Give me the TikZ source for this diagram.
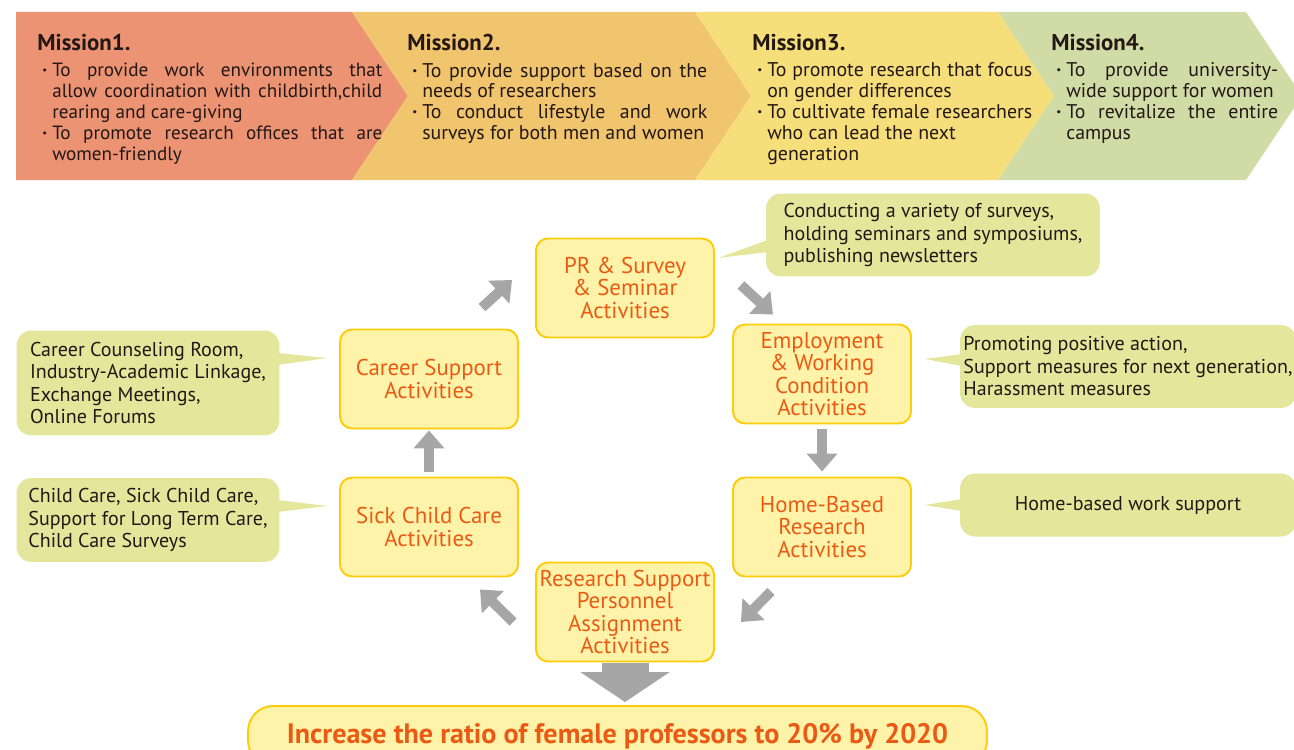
\documentclass[tikz,border=0pt]{standalone}
\usepackage{fontspec}
\setmainfont{PT Sans}
\usepackage{tikz}
\usetikzlibrary{arrows.meta,calc}
\definecolor{rojizo}{RGB}{235,147,115}
\definecolor{ocre}{RGB}{241,196,110}
\definecolor{amarillo}{RGB}{246,222,123}
\definecolor{oliva}{RGB}{209,219,166}
\definecolor{cremaClaro}{RGB}{255,243,170}
\definecolor{doradoBorde}{RGB}{253,204,10}
\definecolor{textoNaranja}{RGB}{234,90,20}
\definecolor{verdeNota}{RGB}{228,231,155}
\definecolor{grisFlecha}{RGB}{166,166,166}
\definecolor{tinta}{RGB}{35,24,21}
\tikzstyle{mission} =[anchor=north west, inner sep=0pt, align=justify,
                      text=tinta, font=\fontsize{11.3}{11.9}\selectfont]
\tikzstyle{activity}=[rectangle, rounded corners=0.24cm, draw=doradoBorde,
                      fill=cremaClaro, line width=1.1pt, inner sep=0pt,
                      minimum width=3.56cm, minimum height=1.98cm,
                      align=center, text=textoNaranja,
                      font=\fontsize{13}{12.8}\selectfont]
\tikzstyle{note}    =[rectangle, rounded corners=0.3cm, fill=verdeNota,
                      inner sep=0pt, align=left, text=tinta,
                      font=\fontsize{11.4}{12.8}\selectfont]
\tikzstyle{flecha}  =[draw=grisFlecha, line width=0.2cm,
                      -{Triangle[width=0.6cm,length=0.36cm]}]
\tikzstyle{goalbox} =[rectangle, rounded corners=0.5cm, draw=doradoBorde,
                      fill=cremaClaro, line width=1.1pt, inner sep=0pt,
                      minimum width=14.78cm, minimum height=1.2cm,
                      text=textoNaranja,
                      font=\bfseries\fontsize{16}{18}\selectfont]
\newcommand{\titulo}{\fontsize{13}{15}\selectfont\bfseries}
\newcommand{\punto}{\par\noindent\hangindent=8.5pt\hangafter=1\makebox[8.5pt][c]{\bfseries ·}}

\begin{document}
\begin{tikzpicture}[x=0.02cm, y=-0.02cm]
    \useasboundingbox (0,0) rectangle (1294,750);

        % missions band
        \begin{scope}[]
            \fill[rojizo]   (16,12) -- (352,12) -- (408,96) -- (352,180) -- (16,180) -- cycle;
            \fill[ocre]     (352,12) -- (695,12) -- (751,96) -- (695,180) -- (352,180) -- (408,96) -- cycle;
            \fill[amarillo] (695,12) -- (998,12) -- (1054,96) -- (998,180) -- (695,180) -- (751,96) -- cycle;
            \fill[oliva]    (998,12) -- (1246,12) -- (1302,96) -- (1246,180) -- (998,180) -- (1054,96) -- cycle;

            \draw (37,33.5) node (m1) [mission, text width=6.9cm, font=\fontsize{10.9}{11.9}\selectfont] {\noindent{\titulo Mission1.}\par\vspace{3.4pt}
                \punto To provide work environments that\linebreak allow coordination with childbirth,child\linebreak rearing and care-giving
                \punto To promote research offices that are\linebreak women-friendly\par};
            \draw (407,33.5) node (m2) [mission, text width=6.0cm] {\noindent{\titulo Mission2.}\par\vspace{3.4pt}
                \punto To provide support based on the\linebreak needs of researchers
                \punto To conduct lifestyle and work\linebreak surveys for both men and women\par};
            \draw (752,33.5) node (m3) [mission, text width=5.6cm] {\noindent{\titulo Mission3.}\par\vspace{3.4pt}
                \punto To promote research that focus\linebreak on gender differences
                \punto To cultivate female researchers\linebreak who can lead the next\newline generation\par};
            \draw (1051,33.5) node (m4) [mission, text width=4.54cm] {\noindent{\titulo Mission4.}\par\vspace{3.4pt}
                \punto To provide university-\linebreak wide support for women
                \punto To revitalize the entire\linebreak campus\par};
        \end{scope}

        % activity cycle
        \begin{scope}[]
            \draw (625,288) node (pr) [activity] {PR \& Survey\\\& Seminar\\Activities};
            \draw (429,379) node (career) [activity] {Career Support\\Activities};
            \draw (822,374) node (emp) [activity] {Employment\\\& Working\\Condition\\Activities};
            \draw (429,527) node (sick) [activity] {Sick Child Care\\Activities};
            \draw (822,527) node (home) [activity] {Home-Based\\Research\\Activities};
            \draw (625,612) node (research) [activity] {Research Support\\Personnel\\Assignment\\Activities};
            \draw (617.5,736) node (goal) [goalbox] {Increase the ratio of female professors to 20\% by 2020};

            \draw[flecha] ($(career.north)+(53,-21)$) -- ($(pr.west)+(-23,-8)$);
            \draw[flecha] ($(pr.east)+(26,-3)$) -- ($(emp.north)+(-49,-9)$);
            \draw[flecha, shorten <=0.1cm, shorten >=0.1cm] (emp.south) -- (home.north);
            \draw[flecha] ($(home.south)+(-51,14)$) -- ($(research.east)+(26,10)$);
            \draw[flecha] ($(research.west)+(-22,10)$) -- ($(sick.south)+(51,12)$);
            \draw[flecha, shorten <=0.1cm, shorten >=0.02cm] (sick.north) -- (career.south);
            \draw[flecha, line width=0.94cm, -{Triangle[width=1.76cm,length=0.6cm]},
                  shorten <=0.02cm, shorten >=0.06cm] (research.south) -- (research.south |- goal.north);
        \end{scope}

        % notes
        \begin{scope}[]
            \draw (933,235) node (prNote) [note, minimum width=6.68cm, minimum height=1.66cm]
                {Conducting a variety of surveys,\\holding seminars and symposiums,\\publishing newsletters};
            \draw (148,383) node (careerNote) [note, minimum width=5.26cm, minimum height=2.1cm]
                {Career Counseling Room,\\Industry-Academic Linkage,\\Exchange Meetings,\\Online Forums};
            \draw (148,520) node (sickNote) [note, minimum width=5.26cm, minimum height=1.68cm]
                {Child Care, Sick Child Care,\\Support for Long Term Care,\\Child Care Surveys};
            \draw (1128,366.5) node (empNote) [note, minimum width=6.72cm, minimum height=1.66cm]
                {Promoting positive action,\\Support measures for next generation,\\Harassment measures};
            \draw (1128,505) node (homeNote) [note, minimum width=6.72cm, minimum height=1.26cm]
                {Home-based work support};

            \coordinate (prTip) at (718,258);
            \coordinate (careerTip) at (327,358);
            \coordinate (sickTip) at (327,506);
            \coordinate (empTip) at (925,359);
            \coordinate (homeTip) at (925,505);

            \foreach \nota/\lado/\dx/\ya/\yb/\tip in {prNote/west/2/240/252/prTip,
                    careerNote/east/-2/353/365/careerTip, sickNote/east/-2/500/512/sickTip,
                    empNote/west/2/354/366/empTip, homeNote/west/2/499/511/homeTip}
                \fill[verdeNota] ($(\nota.\lado |- 0,\ya)+(\dx,0)$) -- (\tip)
                    -- ($(\nota.\lado |- 0,\yb)+(\dx,0)$) -- cycle;
        \end{scope}

    \end{tikzpicture}
\end{document}
